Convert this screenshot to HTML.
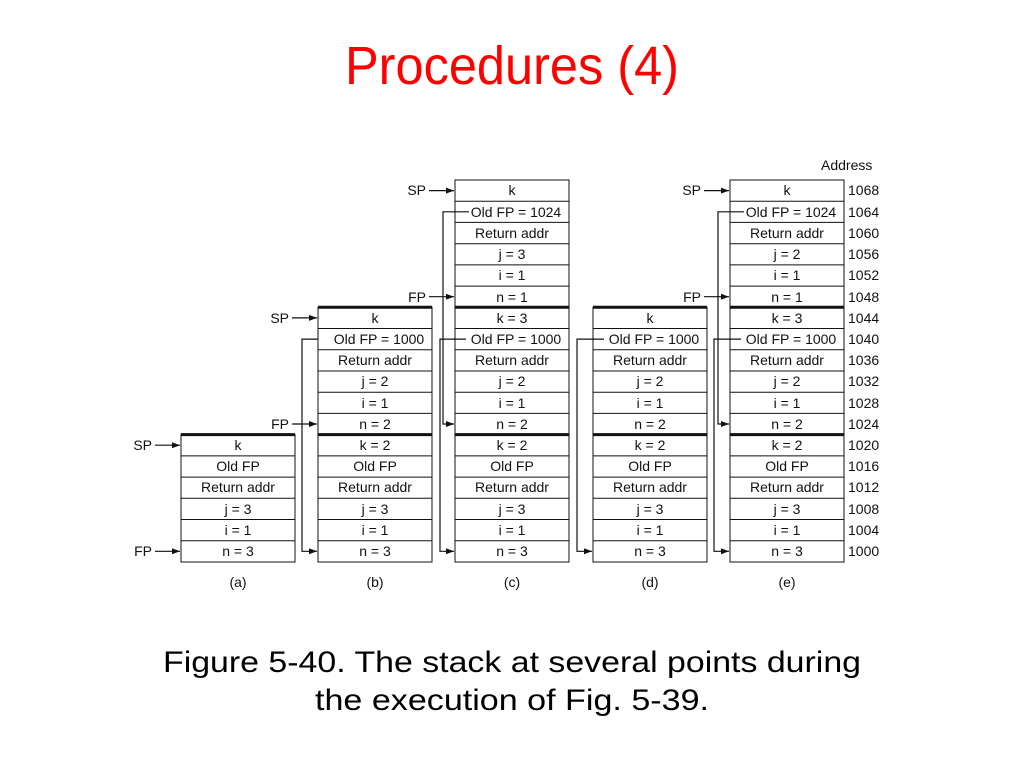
<!DOCTYPE html>
<html><head><meta charset="utf-8"><style>
html,body{margin:0;padding:0;background:#fff;}
svg{display:block;}
.t{font-family:"Liberation Sans",sans-serif;font-size:14px;fill:#111;text-anchor:middle;}
.l{font-family:"Liberation Sans",sans-serif;font-size:14px;fill:#111;text-anchor:end;}
.ad{font-family:"Liberation Sans",sans-serif;font-size:14px;fill:#111;}
</style></head><body>
<svg width="1024" height="768" viewBox="0 0 1024 768" xmlns="http://www.w3.org/2000/svg">
<defs><marker id="ah" markerWidth="8" markerHeight="6" refX="8" refY="3" orient="auto" markerUnits="userSpaceOnUse"><path d="M0,0 L8,3 L0,6 z" fill="#111"/></marker></defs>
<text x="512" y="84" font-family="Liberation Sans, sans-serif" font-size="54" fill="#ff0000" text-anchor="middle" textLength="334" lengthAdjust="spacingAndGlyphs">Procedures (4)</text>
<text x="512" y="672" font-family="Liberation Sans, sans-serif" font-size="30" fill="#000" text-anchor="middle" textLength="698" lengthAdjust="spacingAndGlyphs">Figure 5-40. The stack at several points during</text>
<text x="512" y="710" font-family="Liberation Sans, sans-serif" font-size="30" fill="#000" text-anchor="middle" textLength="394" lengthAdjust="spacingAndGlyphs">the execution of Fig. 5-39.</text>

<g stroke="#111" fill="none" stroke-width="1">
<rect x="181" y="434.6" width="114" height="127.4"/>
<path d="M181 455.9H295M181 477.1H295M181 498.3H295M181 519.5H295M181 540.7H295"/>
<rect x="318" y="307.3" width="114" height="254.7"/>
<path d="M318 328.5H432M318 349.8H432M318 371H432M318 392.2H432M318 413.4H432M318 455.9H432M318 477.1H432M318 498.3H432M318 519.5H432M318 540.7H432"/>
<rect x="455" y="180" width="114" height="382"/>
<path d="M455 201.2H569M455 222.4H569M455 243.7H569M455 264.9H569M455 286.1H569M455 328.5H569M455 349.8H569M455 371H569M455 392.2H569M455 413.4H569M455 455.9H569M455 477.1H569M455 498.3H569M455 519.5H569M455 540.7H569"/>
<rect x="593" y="307.3" width="114" height="254.7"/>
<path d="M593 328.5H707M593 349.8H707M593 371H707M593 392.2H707M593 413.4H707M593 455.9H707M593 477.1H707M593 498.3H707M593 519.5H707M593 540.7H707"/>
<rect x="730" y="180" width="114" height="382"/>
<path d="M730 201.2H844M730 222.4H844M730 243.7H844M730 264.9H844M730 286.1H844M730 328.5H844M730 349.8H844M730 371H844M730 392.2H844M730 413.4H844M730 455.9H844M730 477.1H844M730 498.3H844M730 519.5H844M730 540.7H844"/>
</g>
<g stroke="#111" stroke-width="3">
<path d="M181 434.6H295M318 434.6H432M455 434.6H569M593 434.6H707M730 434.6H844"/>
<path d="M318 307.3H432M455 307.3H569M593 307.3H707M730 307.3H844"/>
</g>
<g stroke="#111" fill="none" stroke-width="1.2">
<path d="M318 339.1H302V551.3H317" marker-end="url(#ah)"/>
<path d="M469 211.8H443V424H454" marker-end="url(#ah)"/>
<path d="M466 339.1H440V551.3H454" marker-end="url(#ah)"/>
<path d="M604 339.1H577V551.3H592" marker-end="url(#ah)"/>
<path d="M744 211.8H718V424H729" marker-end="url(#ah)"/>
<path d="M741 339.1H714V551.3H729" marker-end="url(#ah)"/>
<path d="M155 445.2H180" marker-end="url(#ah)"/>
<path d="M155 551.3H180" marker-end="url(#ah)"/>
<path d="M292 317.9H317" marker-end="url(#ah)"/>
<path d="M292 424H317" marker-end="url(#ah)"/>
<path d="M429 190.6H454" marker-end="url(#ah)"/>
<path d="M429 296.7H454" marker-end="url(#ah)"/>
<path d="M704 190.6H729" marker-end="url(#ah)"/>
<path d="M704 296.7H729" marker-end="url(#ah)"/>
</g>
<text class="l" x="152" y="450">SP</text>
<text class="l" x="152" y="556">FP</text>
<text class="l" x="289" y="323">SP</text>
<text class="l" x="289" y="429">FP</text>
<text class="l" x="426" y="195">SP</text>
<text class="l" x="426" y="302">FP</text>
<text class="l" x="701" y="195">SP</text>
<text class="l" x="701" y="302">FP</text>

<g transform="translate(238,0)">
<text class="t" y="450">k</text><text class="t" y="471">Old FP</text><text class="t" y="492">Return addr</text><text class="t" y="514">j = 3</text><text class="t" y="535">i = 1</text><text class="t" y="556">n = 3</text><text class="t" y="587">(a)</text>
</g>
<g transform="translate(375,0)">
<text class="t" y="323">k</text><text class="t" y="344" x="4">Old FP = 1000</text><text class="t" y="365">Return addr</text><text class="t" y="386">j = 2</text><text class="t" y="408">i = 1</text><text class="t" y="429">n = 2</text>
<text class="t" y="450">k = 2</text><text class="t" y="471">Old FP</text><text class="t" y="492">Return addr</text><text class="t" y="514">j = 3</text><text class="t" y="535">i = 1</text><text class="t" y="556">n = 3</text><text class="t" y="587">(b)</text>
</g>
<g transform="translate(512,0)">
<text class="t" y="195">k</text><text class="t" y="217" x="4">Old FP = 1024</text><text class="t" y="238">Return addr</text><text class="t" y="259">j = 3</text><text class="t" y="280">i = 1</text><text class="t" y="302">n = 1</text>
<text class="t" y="323">k = 3</text><text class="t" y="344" x="4">Old FP = 1000</text><text class="t" y="365">Return addr</text><text class="t" y="386">j = 2</text><text class="t" y="408">i = 1</text><text class="t" y="429">n = 2</text>
<text class="t" y="450">k = 2</text><text class="t" y="471">Old FP</text><text class="t" y="492">Return addr</text><text class="t" y="514">j = 3</text><text class="t" y="535">i = 1</text><text class="t" y="556">n = 3</text><text class="t" y="587">(c)</text>
</g>
<g transform="translate(650,0)">
<text class="t" y="323">k</text><text class="t" y="344" x="4">Old FP = 1000</text><text class="t" y="365">Return addr</text><text class="t" y="386">j = 2</text><text class="t" y="408">i = 1</text><text class="t" y="429">n = 2</text>
<text class="t" y="450">k = 2</text><text class="t" y="471">Old FP</text><text class="t" y="492">Return addr</text><text class="t" y="514">j = 3</text><text class="t" y="535">i = 1</text><text class="t" y="556">n = 3</text><text class="t" y="587">(d)</text>
</g>
<g transform="translate(787,0)">
<text class="t" y="195">k</text><text class="t" y="217" x="4">Old FP = 1024</text><text class="t" y="238">Return addr</text><text class="t" y="259">j = 2</text><text class="t" y="280">i = 1</text><text class="t" y="302">n = 1</text>
<text class="t" y="323">k = 3</text><text class="t" y="344" x="4">Old FP = 1000</text><text class="t" y="365">Return addr</text><text class="t" y="386">j = 2</text><text class="t" y="408">i = 1</text><text class="t" y="429">n = 2</text>
<text class="t" y="450">k = 2</text><text class="t" y="471">Old FP</text><text class="t" y="492">Return addr</text><text class="t" y="514">j = 3</text><text class="t" y="535">i = 1</text><text class="t" y="556">n = 3</text><text class="t" y="587">(e)</text>
</g>
<g>
<text class="ad" x="821" y="170">Address</text>
<text class="ad" x="848" y="195">1068</text><text class="ad" x="848" y="217">1064</text><text class="ad" x="848" y="238">1060</text><text class="ad" x="848" y="259">1056</text><text class="ad" x="848" y="280">1052</text><text class="ad" x="848" y="302">1048</text>
<text class="ad" x="848" y="323">1044</text><text class="ad" x="848" y="344">1040</text><text class="ad" x="848" y="365">1036</text><text class="ad" x="848" y="386">1032</text><text class="ad" x="848" y="408">1028</text><text class="ad" x="848" y="429">1024</text>
<text class="ad" x="848" y="450">1020</text><text class="ad" x="848" y="471">1016</text><text class="ad" x="848" y="492">1012</text><text class="ad" x="848" y="514">1008</text><text class="ad" x="848" y="535">1004</text><text class="ad" x="848" y="556">1000</text>
</g>
</svg>
</body></html>
